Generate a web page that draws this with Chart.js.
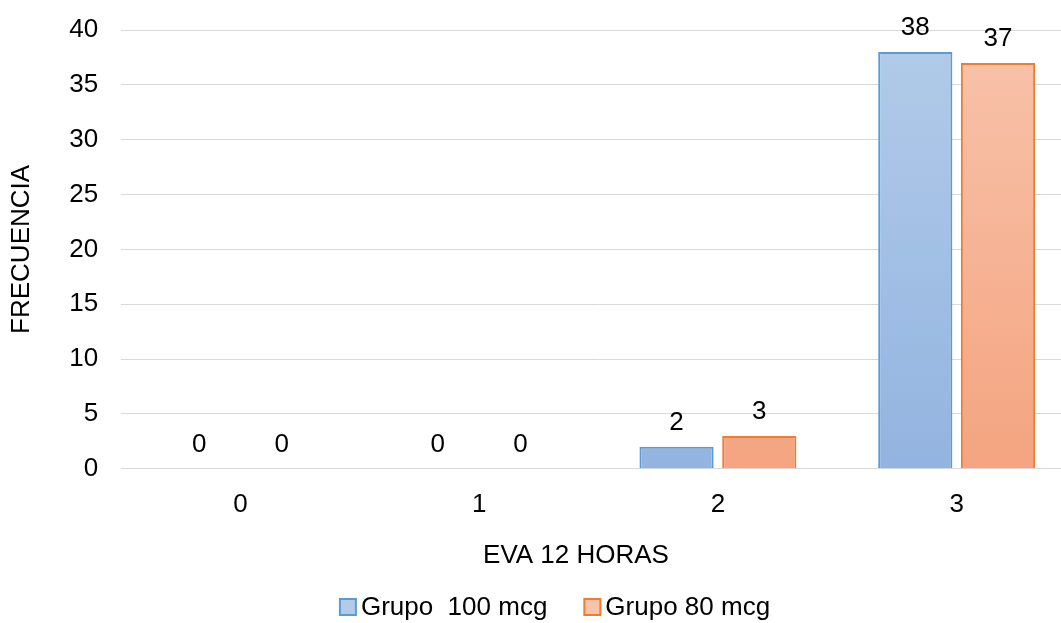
<!DOCTYPE html>
<html>
<head>
<meta charset="utf-8">
<script src="https://cdn.jsdelivr.net/npm/chart.js@4.4.1/dist/chart.umd.min.js"></script>
<style>
  html, body { margin: 0; padding: 0; background: #fff; overflow: hidden; }
  #wrap { width: 1076px; height: 623px; }
</style>
</head>
<body>
<div id="wrap"><canvas id="myChart"></canvas></div>
<script>
const categories = ['0', '1', '2', '3'];
const grupo100 = [0, 0, 2, 38];
const grupo80 = [0, 0, 3, 37];
const seriesNames = ['Grupo  100 mcg', 'Grupo 80 mcg'];
const xTitle = 'EVA 12 HORAS';
const yTitle = 'FRECUENCIA';

const FONT = '"Liberation Sans", Arial, sans-serif';
Chart.defaults.font.family = FONT;
Chart.defaults.color = '#000';

const fills = [['#b2cbe9', '#93b4e0'], ['#f8c3ab', '#f4a480']];
const borders = ['#5b9bd5', '#ed7d31'];

function grad(top, bottom) {
  return function (context) {
    const area = context.chart.chartArea;
    if (!area) return bottom;
    const g = context.chart.ctx.createLinearGradient(0, area.top, 0, area.bottom);
    g.addColorStop(0, top);
    g.addColorStop(1, bottom);
    return g;
  };
}

// value labels above bars, x title and legend drawn like the office chart
const extras = {
  id: 'extras',
  afterDatasetsDraw(chart) {
    const ctx = chart.ctx;
    ctx.save();
    ctx.font = '26px ' + FONT;
    ctx.fillStyle = '#000';
    ctx.textAlign = 'center';
    ctx.textBaseline = 'bottom';
    chart.data.datasets.forEach((ds, i) => {
      chart.getDatasetMeta(i).data.forEach((bar, j) => {
        ctx.fillText(ds.data[j], bar.x, bar.y - 11);
      });
    });

    ctx.textBaseline = 'middle';
    ctx.fillText(xTitle, 576, 556);

    // legend
    const box = 16, gap = 5, sep = 37, cy = 607;
    const widths = seriesNames.map(n => ctx.measureText(n).width);
    let total = 0;
    widths.forEach((w, i) => { total += box + gap + w + (i ? sep : 0); });
    let x = 555 - total / 2;
    ctx.textAlign = 'left';
    seriesNames.forEach((name, i) => {
      ctx.fillStyle = fills[i][0];
      ctx.fillRect(x, cy - box / 2, box, box);
      ctx.strokeStyle = borders[i];
      ctx.lineWidth = 2;
      ctx.strokeRect(x, cy - box / 2, box, box);
      ctx.fillStyle = '#000';
      ctx.fillText(name, x + box + gap, cy + 1);
      x += box + gap + widths[i] + sep;
    });
    ctx.restore();
  }
};

const config = {
  type: 'bar',
  data: {
    labels: categories,
    datasets: [{
      label: seriesNames[0],
      data: grupo100,
      backgroundColor: grad(fills[0][0], fills[0][1]),
      borderColor: borders[0],
      borderWidth: 2,
      categoryPercentage: 0.693,
      barPercentage: 0.897
    }, {
      label: seriesNames[1],
      data: grupo80,
      backgroundColor: grad(fills[1][0], fills[1][1]),
      borderColor: borders[1],
      borderWidth: 2,
      categoryPercentage: 0.693,
      barPercentage: 0.897
    }]
  },
  options: {
    responsive: true,
    maintainAspectRatio: false,
    animation: false,
    layout: { padding: { left: 6, right: 0, top: 30, bottom: 91 } },
    plugins: {
      legend: { display: false },
      tooltip: { enabled: false }
    },
    scales: {
      x: {
        grid: { display: false },
        border: { color: '#d9d9d9', width: 1 },
        ticks: { font: { size: 26 }, padding: 12 }
      },
      y: {
        min: 0,
        max: 40,
        ticks: { stepSize: 5, font: { size: 26 }, padding: 23 },
        grid: { color: '#d9d9d9', drawTicks: false },
        border: { display: false },
        title: { display: true, text: yTitle, font: { size: 26 }, padding: { top: 0, bottom: 9 } },
        afterFit(scale) { scale.paddingTop = 0; }
      }
    }
  },
  plugins: [extras]
};

var ctx = document.getElementById('myChart').getContext('2d');
var chart = new Chart(ctx, config);
</script>
</body>
</html>
